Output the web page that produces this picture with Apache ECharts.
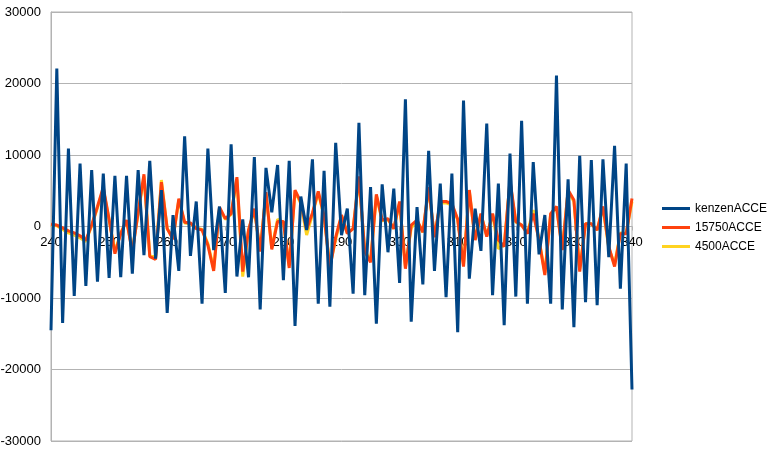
<!DOCTYPE html>
<html>
<head>
<meta charset="utf-8">
<script src="https://cdn.jsdelivr.net/npm/echarts@6/dist/echarts.min.js"></script>
<style>
html,body{margin:0;padding:0;background:#fff;}
#chart{width:771px;height:454px;}
</style>
</head>
<body>
<div id="chart"></div>
<script>
var categories = [];
for (var c = 240; c <= 340; c++) categories.push(String(c));

var seriesNames = ["kenzenACCE", "15750ACCE", "4500ACCE"];

var kenzenACCE = [
-14500,22100,-13500,10900,-9700,8800,-8300,7900,-7700,7400,
-7200,7100,-7100,7100,-6600,7900,-4000,9200,-4500,5100,
-12100,1600,-6200,12600,-4100,3500,-10800,10900,-3300,2800,
-9300,11500,-7000,1000,-7100,9700,-11600,8200,2000,8600,
-7500,9200,-13900,4200,-500,9400,-10800,7800,-11200,11700,
-1200,2500,-9400,14500,-9600,5500,-13600,5900,-3600,5300,
-7900,17800,-13300,2700,-8100,10600,-6200,6000,-9900,7400,
-14800,17600,-7300,2500,-3400,14400,-9600,6000,-13800,10200,
-9800,14800,-10800,9000,-3900,1600,-10800,21100,-11600,6600,
-14100,9900,-10600,9300,-11000,9400,-4300,11300,-8700,8800,
-22800
];

var acce15750 = [
300,200,-200,-600,-900,-1300,-1900,200,2800,5500,
1000,-3800,-1000,900,-3600,2000,7300,-4200,-4600,6200,
-300,-1800,3900,600,500,-300,-500,-2600,-6200,2700,
1100,1800,6900,-6300,-500,2500,-3500,4800,-3200,700,
700,-5800,5100,3400,-400,1900,4900,1500,-5800,-1500,
1600,-1000,-300,7000,-3500,-5000,4500,900,1100,-300,
3500,-5900,200,900,-800,5500,-1500,3500,3500,3200,
1000,-5600,5100,-1900,1800,-1400,1800,-1900,-2800,6500,
700,200,-1000,1800,-1900,-6800,1800,2800,-3300,5100,
3700,-6300,400,400,-500,2800,-2800,-5600,-1000,-1000,
3900
];

var acce4500 = [
200,100,-400,-900,-1200,-1600,-2100,100,2600,5200,
900,-3500,-900,800,-3300,1800,7000,-4000,-4300,6500,
-300,-1600,3700,500,400,-200,-400,-2400,-5900,2500,
1000,1700,6600,-7000,-500,2300,-3300,4600,-3000,1000,
600,-5500,4900,3200,-1200,1700,4700,1400,-5500,-1800,
1500,-900,-300,6700,-3300,-4800,4300,800,1000,-300,
3300,-5600,-200,800,-800,5300,-1400,3300,3300,3000,
900,-5300,4900,-1800,1700,-1300,1700,-3100,-2600,6200,
600,200,-900,2300,-1800,-6500,1700,2700,-3100,4900,
3500,-6000,400,400,-500,2600,-3000,-5300,-900,-900,
3500
];

var yTicks = { min: -30000, max: 30000, step: 10000 };
var colors = ["#004586", "#ff420e", "#ffd320"];

var chart = echarts.init(document.getElementById('chart'), null, {renderer: 'canvas'});
var font = "'Liberation Sans', Arial, sans-serif";
var gridTop = 12, gridBottom = 13, chartH = 454;
var plotH = chartH - gridTop - gridBottom;
var zeroOffset = -plotH * (0 - yTicks.min) / (yTicks.max - yTicks.min);
chart.setOption({
  animation: false,
  backgroundColor: '#fff',
  grid: {
    left: 51, right: 139, top: gridTop, bottom: gridBottom,
    containLabel: false, outerBoundsMode: 'none',
    show: true, borderColor: '#b3b3b3', borderWidth: 1, backgroundColor: 'transparent'
  },
  legend: {
    orient: 'vertical',
    left: 662, top: 202, padding: 0,
    itemWidth: 28, itemHeight: 3, itemGap: 6,
    icon: 'rect',
    textStyle: { fontFamily: font, fontSize: 12, color: '#000', lineHeight: 13 },
    data: seriesNames
  },
  xAxis: {
    type: 'category',
    data: categories,
    boundaryGap: false,
    offset: zeroOffset,
    axisLine: { onZero: false, lineStyle: { color: '#b3b3b3', width: 1 } },
    axisTick: { show: true, interval: 9, length: 4, inside: false, lineStyle: { color: '#b3b3b3' } },
    axisLabel: { interval: 9, margin: 9, fontFamily: font, fontSize: 13, color: '#000' },
    splitLine: { show: false }
  },
  yAxis: {
    type: 'value',
    min: yTicks.min, max: yTicks.max, interval: yTicks.step,
    axisLine: { show: true, lineStyle: { color: '#b3b3b3' } },
    axisTick: { show: false },
    axisLabel: { margin: 10, fontFamily: font, fontSize: 13, color: '#000',
      formatter: function (v) { return String(v); } },
    splitLine: { show: true, lineStyle: { color: '#b3b3b3', width: 1 } }
  },
  series: [
    { name: seriesNames[0], type: 'line', data: kenzenACCE, showSymbol: false, symbol: 'none', z: 5,
      lineStyle: { color: colors[0], width: 3 }, itemStyle: { color: colors[0] } },
    { name: seriesNames[1], type: 'line', data: acce15750, showSymbol: false, symbol: 'none', z: 4,
      lineStyle: { color: colors[1], width: 3 }, itemStyle: { color: colors[1] } },
    { name: seriesNames[2], type: 'line', data: acce4500, showSymbol: false, symbol: 'none', z: 3,
      lineStyle: { color: colors[2], width: 3 }, itemStyle: { color: colors[2] } }
  ]
});
</script>
</body>
</html>
